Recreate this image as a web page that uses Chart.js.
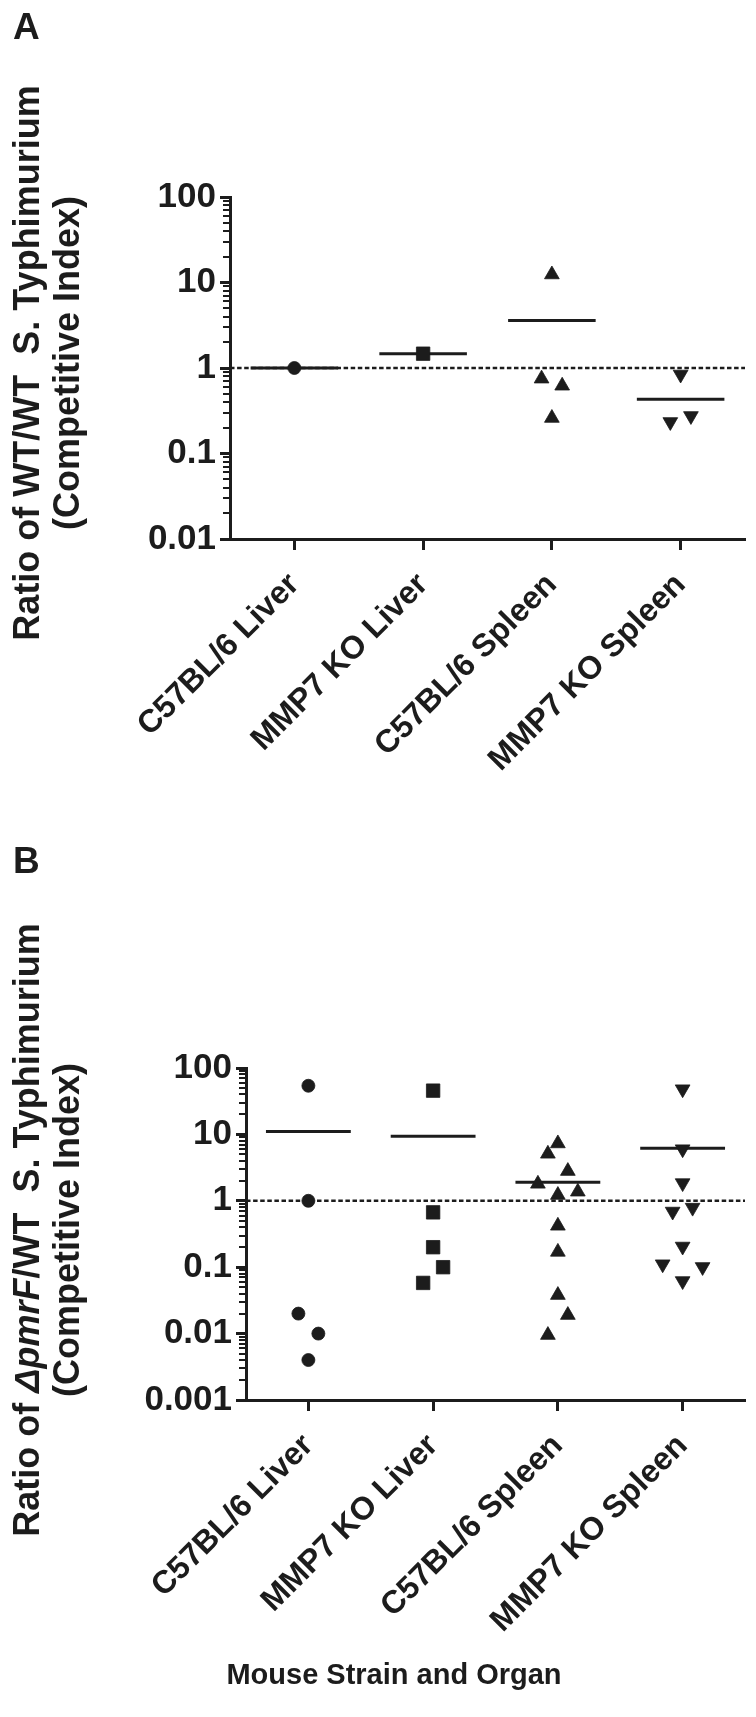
<!DOCTYPE html>
<html><head><meta charset="utf-8">
<script src="https://cdn.jsdelivr.net/npm/chart.js@4.4.1/dist/chart.umd.min.js"></script>
<style>
html,body{margin:0;padding:0;background:#fff;}
#wrap{position:relative;width:756px;height:1717px;overflow:hidden;background:#fff;}
canvas{position:absolute;left:0;}
</style></head><body>
<div id="wrap">
<canvas id="cA" width="756" height="840" style="top:0;width:756px;height:840px"></canvas>
<canvas id="cB" width="756" height="877" style="top:840px;width:756px;height:877px"></canvas>
</div>
<script>
// ---------- data ----------
const categories = ['C57BL/6 Liver', 'MMP7 KO Liver', 'C57BL/6 Spleen', 'MMP7 KO Spleen'];

const yTicksA = [0.01, 0.1, 1, 10, 100];
const yTickLabelsA = ['0.01', '0.1', '1', '10', '100'];
const yTicksB = [0.001, 0.01, 0.1, 1, 10, 100];
const yTickLabelsB = ['0.001', '0.01', '0.1', '1', '10', '100'];

// Panel A: WT/WT competitive index
const aC57Liver = [1.0];
const aKoLiver = [1.47];
const aC57Spleen = [12.4, 0.75, 0.62, 0.26];
const aKoSpleen = [0.84, 0.275, 0.234];
const aMeans = [1.0, 1.47, 3.6, 0.43];
// horizontal scatter offsets (in category widths)
const aC57LiverJit = [0];
const aKoLiverJit = [0];
const aC57SpleenJit = [0, -0.08, 0.08, 0];
const aKoSpleenJit = [0, 0.08, -0.08];

// Panel B: dpmrF/WT competitive index
const bC57Liver = [54, 1.0, 0.02, 0.01, 0.004];
const bKoLiver = [45.6, 0.67, 0.2, 0.1, 0.058];
const bC57Spleen = [7.3, 5.1, 2.8, 1.8, 1.37, 1.22, 0.42, 0.17, 0.038, 0.019, 0.0095];
const bKoSpleen = [48, 6.0, 1.85, 0.79, 0.69, 0.205, 0.111, 0.101, 0.062];
const bMeans = [11.1, 9.4, 1.9, 6.2];
const bC57LiverJit = [0, 0, -0.08, 0.08, 0];
const bKoLiverJit = [0, 0, 0, 0.08, -0.08];
const bC57SpleenJit = [0, -0.08, 0.08, -0.16, 0.16, 0, 0, 0, 0, 0.08, -0.08];
const bKoSpleenJit = [0, 0, 0, 0.08, -0.08, 0, -0.16, 0.16, 0];

const referenceValue = 1;

// ---------- styling ----------
const INK = '#1c1c1c';
const FONT = "'Liberation Sans', Arial, Helvetica, sans-serif";
const markerStyles = ['circle', 'rect', 'triangle', 'triangle'];
const markerRot = [0, 0, 0, 180];
const markerRadii = [6.5, 9.5, 8.5, 8.5];
const meanHalf = 0.34;
const X_MIN = -0.5, X_MAX = 3.5;

function isDecade(v) { const l = Math.log10(v); return Math.abs(l - Math.round(l)) < 1e-6; }
function allLogTicks(decades) {
  const out = [];
  for (let i = 0; i < decades.length; i++) {
    out.push(decades[i]);
    if (i < decades.length - 1) for (let k = 2; k <= 9; k++) out.push(+(decades[i] * k).toPrecision(6));
  }
  return out;
}

function decorPlugin(o) {
  return {
    id: 'decor_' + o.letter,
    afterDraw(chart) {
      const ctx = chart.ctx;
      const ys = chart.scales.y;
      const left = chart.chartArea.left;
      ctx.save();
      // minor ticks on log axis
      ctx.strokeStyle = INK; ctx.lineWidth = 2;
      ys.ticks.forEach(t => {
        if (!isDecade(t.value)) {
          const py = Math.round(ys.getPixelForValue(t.value));
          ctx.beginPath(); ctx.moveTo(left - 7, py); ctx.lineTo(left, py); ctx.stroke();
        }
      });
      ctx.fillStyle = INK;
      // panel letter
      ctx.font = 'bold 37px ' + FONT;
      ctx.textAlign = 'left'; ctx.textBaseline = 'alphabetic';
      ctx.fillText(o.letter, o.letterX, o.letterY);
      // y title (two lines, rotated)
      ctx.translate(o.titleX, o.titleY);
      ctx.rotate(-Math.PI / 2);
      ctx.textBaseline = 'middle';
      const fN = 'bold 36px ' + FONT, fI = 'italic bold 36px ' + FONT;
      let w = 0;
      o.line1.forEach(s => { ctx.font = s.it ? fI : fN; w += ctx.measureText(s.t).width; });
      let x = -w / 2;
      ctx.textAlign = 'left';
      o.line1.forEach(s => { ctx.font = s.it ? fI : fN; ctx.fillText(s.t, x, 0); x += ctx.measureText(s.t).width; });
      ctx.font = fN; ctx.textAlign = 'center';
      ctx.fillText(o.line2, 0, o.lineGap);
      ctx.restore();
      if (o.xTitle) {
        ctx.save();
        ctx.fillStyle = INK; ctx.font = 'bold 29px ' + FONT;
        ctx.textAlign = 'center'; ctx.textBaseline = 'alphabetic';
        ctx.fillText(o.xTitle, o.xTitleX, o.xTitleY);
        ctx.restore();
      }
    }
  };
}

function buildChart(id, cfg) {
  const ds = [];
  ds.push({ data: [{ x: X_MIN, y: referenceValue }, { x: X_MAX, y: referenceValue }], showLine: true,
    borderColor: INK, borderWidth: 2.5, borderDash: [4.5, 2.6], pointRadius: 0, order: 5 });
  cfg.means.forEach((m, i) => ds.push({ data: [{ x: i - meanHalf, y: m }, { x: i + meanHalf, y: m }],
    showLine: true, borderColor: INK, borderWidth: 3, pointRadius: 0, order: 4 }));
  cfg.groups.forEach((g, i) => ds.push({
    data: g.v.map((v, k) => ({ x: i + g.j[k], y: v })), showLine: false,
    pointStyle: markerStyles[i], rotation: markerRot[i], pointRadius: markerRadii[i],
    backgroundColor: INK, borderColor: INK, borderWidth: 0.8, order: 1 }));
  const decades = cfg.yTicks;
  const tickVals = allLogTicks(decades);
  return new Chart(document.getElementById(id), {
    type: 'scatter',
    data: { datasets: ds },
    options: {
      responsive: false, animation: false, devicePixelRatio: 1,
      layout: { padding: { left: 0, right: cfg.padRight, top: cfg.top, bottom: 0 } },
      plugins: { legend: { display: false }, tooltip: { enabled: false } },
      scales: {
        x: {
          type: 'linear', min: X_MIN, max: X_MAX,
          afterBuildTicks: s => { s.ticks = categories.map((c, i) => ({ value: i })); },
          afterFit: s => { s.height = cfg.xAxisHeight; },
          ticks: { autoSkip: false, maxRotation: 45, minRotation: 45, padding: cfg.xPad, color: INK,
            font: { family: FONT, size: 32, weight: 'bold' },
            callback: v => categories[Math.round(v)] || '' },
          grid: { drawOnChartArea: false, drawTicks: true, tickLength: 11, tickWidth: 3, tickColor: INK },
          border: { display: true, width: 3, color: INK }
        },
        y: {
          type: 'logarithmic', min: decades[0], max: decades[decades.length - 1],
          afterBuildTicks: s => { s.ticks = tickVals.map(v => ({ value: v, major: isDecade(v) })); },
          afterFit: s => { s.width = cfg.left; },
          ticks: { autoSkip: false, padding: 4, color: INK,
            font: { family: FONT, size: 35, weight: 'bold' },
            callback: v => { const i = decades.findIndex(d => Math.abs(d - v) / d < 1e-6); return i >= 0 ? cfg.yLabels[i] : ''; } },
          grid: { drawOnChartArea: false, drawTicks: true, tickLength: 10, tickWidth: 3,
            tickColor: c => (c.tick && isDecade(c.tick.value)) ? INK : 'rgba(0,0,0,0)' },
          border: { display: true, width: 3, color: INK }
        }
      }
    },
    plugins: [decorPlugin(cfg.decor)]
  });
}

buildChart('cA', {
  yTicks: yTicksA, yLabels: yTickLabelsA, means: aMeans,
  groups: [{ v: aC57Liver, j: aC57LiverJit }, { v: aKoLiver, j: aKoLiverJit },
           { v: aC57Spleen, j: aC57SpleenJit }, { v: aKoSpleen, j: aKoSpleenJit }],
  left: 230, padRight: 11, top: 197, xAxisHeight: 840 - 539, xPad: 16,
  decor: { letter: 'A', letterX: 13, letterY: 39, titleX: 29, titleY: 363, lineGap: 40,
    line1: [{ t: 'Ratio of WT/WT  S. Typhimurium', it: false }], line2: '(Competitive Index)' }
});

buildChart('cB', {
  yTicks: yTicksB, yLabels: yTickLabelsB, means: bMeans,
  groups: [{ v: bC57Liver, j: bC57LiverJit }, { v: bKoLiver, j: bKoLiverJit },
           { v: bC57Spleen, j: bC57SpleenJit }, { v: bKoSpleen, j: bKoSpleenJit }],
  left: 246, padRight: 11, top: 1068 - 840, xAxisHeight: 877 - 560, xPad: 16,
  decor: { letter: 'B', letterX: 13, letterY: 873 - 840, titleX: 29, titleY: 1230 - 840, lineGap: 40,
    line1: [{ t: 'Ratio of ', it: false }, { t: 'ΔpmrF', it: true }, { t: '/WT  S. Typhimurium', it: false }],
    line2: '(Competitive Index)',
    xTitle: 'Mouse Strain and Organ', xTitleX: 394, xTitleY: 1684 - 840 }
});
</script>
</body></html>
